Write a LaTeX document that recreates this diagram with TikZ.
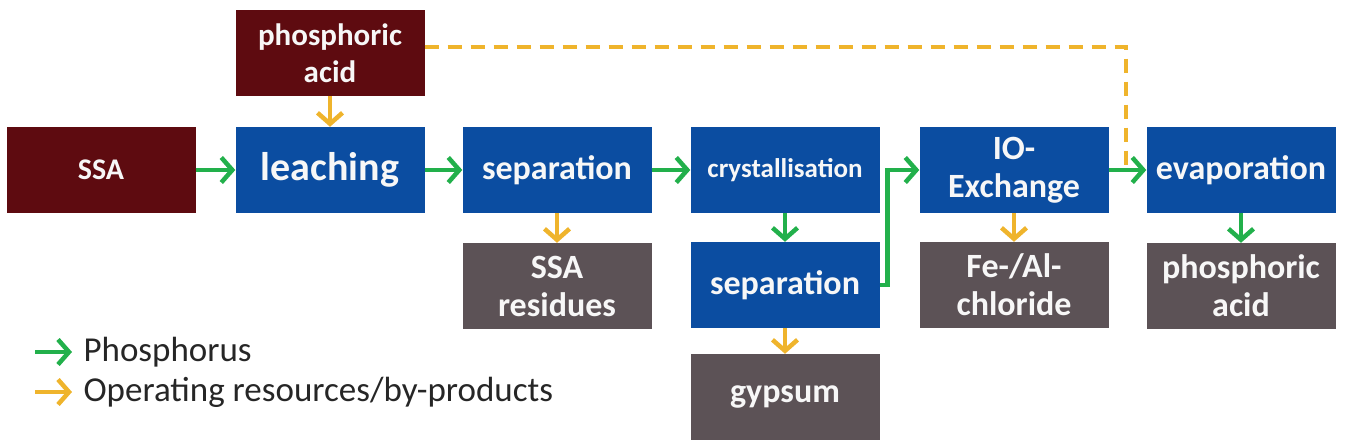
\documentclass[tikz,border=0pt]{standalone}
\usepackage{fontspec}
\setmainfont{Carlito}
\usetikzlibrary{arrows.meta,positioning}
\definecolor{feed}{HTML}{5E0B10}
\definecolor{stage}{HTML}{0B4DA1}
\definecolor{rest}{HTML}{5C5256}
\definecolor{pflow}{HTML}{22B04B}
\definecolor{resflow}{HTML}{EFB42C}
\definecolor{legendtxt}{HTML}{262626}

\tikzset{
  box/.style={rectangle, minimum width=189pt, minimum height=86pt, inner sep=0pt,
    text=white!94!gray, align=center, font=\bfseries\fontsize{34}{38}\selectfont},
  feedbox/.style={box, fill=feed},
  stagebox/.style={box, fill=stage},
  restbox/.style={box, fill=rest},
  pline/.style={draw=pflow, line width=4.5pt, -{Straight Barb[length=11pt,width=25pt]}},
  resline/.style={draw=resflow, line width=4.5pt, -{Straight Barb[length=11pt,width=25pt]}}
}

\begin{document}
\begin{tikzpicture}[x=1pt,y=-1pt]
  \useasboundingbox (0,0) rectangle (1350,447);

  % inputs
  \node[feedbox, font=\bfseries\fontsize{30}{37}\selectfont] (ssa) at (101,170) {SSA};
  \node[feedbox, font=\bfseries\fontsize{31}{37}\selectfont] (pacid) at (330,53) {phosphoric\\acid};

  % process chain
  \node[stagebox, font=\bfseries\fontsize{40}{42}\selectfont] (leach) at (330,170) {leaching};
  \node[stagebox] (sepa) at (557,170) {separation};
  \node[stagebox, font=\bfseries\fontsize{27}{30}\selectfont] (cryst) at (785,170) {crystallisation};
  \node[stagebox] (sepb) at (785,285) {separation};
  \node[stagebox] (iox) at (1014,170) {IO-\\Exchange};
  \node[stagebox] (evap) at (1241,170) {evaporation};

  % products and residues
  \node[restbox] (resid) at (557,286) {SSA\\residues};
  \node[restbox] (gyps) at (785,397) {gypsum};
  \node[restbox] (fealcl) at (1014,285) {Fe-/Al-\\chloride};
  \node[restbox] (pout) at (1241,286) {phosphoric\\acid};

  % operating resources
  \coordinate (mrg) at (1126,170);
  \draw[draw=resflow, line width=4.5pt, dash pattern=on 14pt off 9pt]
    ([yshift=6pt]pacid.east) -| (mrg);
  \draw[resline] (pacid) -- (leach);
  \draw[resline] (sepa) -- (resid);
  \draw[resline] (sepb) -- (gyps);
  \draw[resline] (iox) -- (fealcl);

  % phosphorus path
  \draw[pline] (ssa) -- (leach);
  \draw[pline] (leach) -- (sepa);
  \draw[pline] (sepa) -- (cryst);
  \draw[pline] (cryst) -- (sepb);
  \draw[pline] (sepb.east) -- ++(8,0) |- (iox.west);
  \draw[pline] (iox) -- (evap);
  \draw[pline] (evap) -- (pout);

  % legend
  \coordinate (lga) at (35,352);
  \coordinate (lgb) at (72,352);
  \coordinate (lgc) at (35,392);
  \coordinate (lgd) at (72,392);
  \draw[pline] (lga) -- (lgb);
  \draw[resline] (lgc) -- (lgd);
  \node[anchor=west, text=legendtxt, font=\fontsize{35}{38}\selectfont] (lgp) at (80,352) {Phosphorus};
  \node[anchor=west, text=legendtxt, font=\fontsize{35}{38}\selectfont] (lgr) at (80,392) {Operating resources/by-products};
\end{tikzpicture}
\end{document}
